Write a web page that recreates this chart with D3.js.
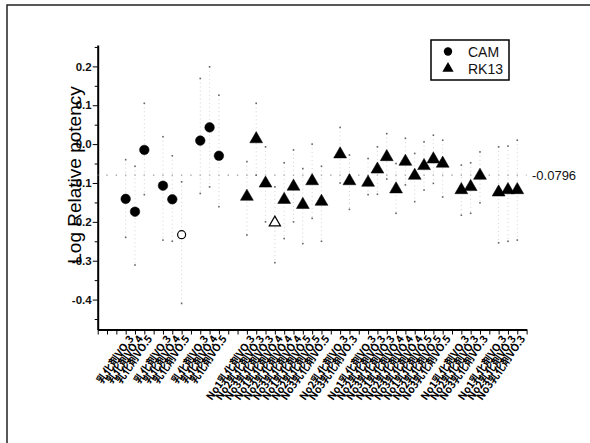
<!DOCTYPE html>
<html>
<head>
<meta charset="utf-8">
<script src="https://cdn.jsdelivr.net/npm/d3@7"></script>
<style>
  body { margin: 0; background: #fff; }
  svg { display: block; }
</style>
</head>
<body>
<script>
// category slots along the x axis ("" = empty slot)
var tickLabels = [
  "", "", "",
  "乳化剤VO.3", "乳化剤VO.4", "乳化剤VO.5", "",
  "乳化剤VO.3", "乳化剤VO.4", "乳化剤VO.5", "",
  "乳化剤VO.3", "乳化剤VO.4", "乳化剤VO.5", "", "",
  "No1乳化剤VO.3", "No2乳化剤VO.3", "No3乳化剤VO.3", "No1乳化剤VO.4", "No2乳化剤VO.4",
  "No3乳化剤VO.4", "No1乳化剤VO.5", "No2乳化剤VO.5", "No3乳化剤VO.5", "",
  "No2乳化剤VO.3", "No3乳化剤VO.3", "",
  "No1乳化剤VO.3", "No2乳化剤VO.3", "No3乳化剤VO.3", "No1乳化剤VO.4", "No2乳化剤VO.4",
  "No3乳化剤VO.4", "No1乳化剤VO.5", "No2乳化剤VO.5", "No3乳化剤VO.5", "",
  "No1乳化剤VO.3", "No2乳化剤VO.3", "No3乳化剤VO.3", "",
  "No1乳化剤VO.3", "No2乳化剤VO.3", "No3乳化剤VO.3", ""
];

var camIdx  = [3, 4, 5, 7, 8, 9, 11, 12, 13];
var camMean = [-0.141, -0.174, -0.015, -0.107, -0.142, -0.233, 0.009, 0.043, -0.030];
var camHi   = [-0.040, -0.057, 0.105, 0.019, -0.030, -0.097, 0.169, 0.199, 0.126];
var camLo   = [-0.240, -0.311, -0.130, -0.247, -0.250, -0.410, -0.127, -0.110, -0.161];
var camOpen = [9];

var rkIdx  = [16, 17, 18, 19, 20, 21, 22, 23, 24, 26, 27,
              29, 30, 31, 32, 33, 34, 35, 36, 37, 39, 40, 41, 43, 44, 45];
var rkMean = [-0.135, 0.013, -0.101, -0.202, -0.143, -0.109, -0.156, -0.095, -0.148, -0.026, -0.095,
              -0.099, -0.065, -0.033, -0.116, -0.045, -0.081, -0.056, -0.039, -0.050,
              -0.118, -0.110, -0.081, -0.124, -0.118, -0.118];
var rkHi   = [-0.045, 0.105, -0.007, -0.110, -0.048, -0.015, -0.063, 0.000, -0.057, 0.043, -0.028,
              -0.037, -0.007, 0.027, -0.050, 0.015, -0.024, 0.006, 0.023, 0.010,
              -0.054, -0.048, -0.020, -0.007, -0.005, 0.010];
var rkLo   = [-0.234, -0.080, -0.200, -0.305, -0.243, -0.200, -0.256, -0.191, -0.250, -0.100, -0.168,
              -0.130, -0.129, -0.090, -0.178, -0.105, -0.148, -0.118, -0.101, -0.136,
              -0.183, -0.178, -0.151, -0.254, -0.250, -0.247];
var rkOpen = [19];

var grandMean = -0.0796;
var yTicks = [0.2, 0.1, 0.0, -0.1, -0.2, -0.3, -0.4];
var yMinor = [0.25, 0.15, 0.05, -0.05, -0.15, -0.25, -0.35, -0.45];

var width = 590, height = 443;

var svg = d3.select("body").append("svg")
    .attr("width", width)
    .attr("height", height);

// outer frame (only left and top edges are visible)
svg.append("path")
    .attr("d", "M7," + height + "V5H" + width)
    .attr("fill", "none")
    .attr("stroke", "#222")
    .attr("stroke-width", 1.5);

var x = d3.scalePoint()
    .domain(d3.range(tickLabels.length))
    .range([97.7, 526.6]);

var y = d3.scaleLinear()
    .domain([-0.477, 0.255])
    .range([329.5, 45]);

var fmt = function (d) { return d.toFixed(1); };

// y axis
var yAxis = svg.append("g")
    .attr("transform", "translate(" + x(0) + ",0)")
    .call(d3.axisLeft(y).tickValues(yTicks).tickFormat(fmt).tickSize(5).tickSizeOuter(0));

yAxis.select(".domain").attr("stroke-width", 2);
yAxis.selectAll("text")
    .attr("x", -6)
    .attr("font-family", "Liberation Sans, Arial, sans-serif")
    .attr("font-weight", "bold")
    .attr("font-size", 11.5)
    .attr("fill", "#111");

svg.append("g")
    .attr("transform", "translate(" + x(0) + ",0)")
    .call(d3.axisLeft(y).tickValues(yMinor).tickFormat("").tickSize(3).tickSizeOuter(0))
    .select(".domain").remove();

// x axis
var xAxis = svg.append("g")
    .attr("transform", "translate(0," + y.range()[0] + ")")
    .call(d3.axisBottom(x).tickSize(5).tickSizeOuter(0).tickFormat(function (i) { return tickLabels[i]; }));

xAxis.select(".domain").attr("stroke-width", 2);
xAxis.selectAll("text")
    .attr("x", 0)
    .attr("y", 0)
    .attr("dy", "0.35em")
    .attr("text-anchor", "end")
    .attr("transform", "translate(5,7) rotate(-55)")
    .attr("font-family", "Noto Sans CJK JP, sans-serif")
    .attr("font-weight", "bold")
    .attr("font-size", 10.5)
    .attr("fill", "#000");

// y title
svg.append("text")
    .attr("transform", "translate(81,175) rotate(-90)")
    .attr("text-anchor", "middle")
    .attr("font-family", "Liberation Sans, Arial, sans-serif")
    .attr("font-size", 19)
    .attr("fill", "#000")
    .text("Log Relative potency");

// grand mean reference line + label
svg.append("line")
    .attr("x1", x(0))
    .attr("x2", x(tickLabels.length - 1))
    .attr("y1", y(grandMean))
    .attr("y2", y(grandMean))
    .attr("stroke", "#999")
    .attr("stroke-width", 1.2)
    .attr("stroke-dasharray", "1.4," + (x.step() - 1.4))
    .attr("stroke-dashoffset", 0.7);

svg.append("text")
    .attr("x", 532)
    .attr("y", y(grandMean))
    .attr("dy", "0.35em")
    .attr("font-family", "Liberation Sans, Arial, sans-serif")
    .attr("font-size", 13)
    .attr("fill", "#111")
    .text("-0.0796");

// build rows for both series
var camRows = camIdx.map(function (c, i) {
  return { cat: c, mean: camMean[i], hi: camHi[i], lo: camLo[i], open: camOpen.indexOf(c) >= 0, series: "CAM" };
});
var rkRows = rkIdx.map(function (c, i) {
  return { cat: c, mean: rkMean[i], hi: rkHi[i], lo: rkLo[i], open: rkOpen.indexOf(c) >= 0, series: "RK13" };
});
var rows = camRows.concat(rkRows);

// interval lines (faint dotted)
var bars = svg.append("g");
bars.selectAll("line")
    .data(rows)
    .enter().append("line")
    .attr("x1", function (d) { return x(d.cat); })
    .attr("x2", function (d) { return x(d.cat); })
    .attr("y1", function (d) { return y(d.hi); })
    .attr("y2", function (d) { return y(d.lo); })
    .attr("stroke", "#d2d2d2")
    .attr("stroke-width", 1)
    .attr("stroke-dasharray", "1,3");

bars.selectAll("rect.hi")
    .data(rows)
    .enter().append("rect")
    .attr("class", "hi")
    .attr("x", function (d) { return x(d.cat) - 0.8; })
    .attr("y", function (d) { return y(d.hi) - 0.8; })
    .attr("width", 1.6)
    .attr("height", 1.6)
    .attr("fill", "#666");

bars.selectAll("rect.lo")
    .data(rows)
    .enter().append("rect")
    .attr("class", "lo")
    .attr("x", function (d) { return x(d.cat) - 0.8; })
    .attr("y", function (d) { return y(d.lo) - 0.8; })
    .attr("width", 1.6)
    .attr("height", 1.6)
    .attr("fill", "#666");

// markers
var circle = d3.symbol().type(d3.symbolCircle);
var triangle = d3.symbol().type(d3.symbolTriangle);

svg.append("g").selectAll("path")
    .data(rows)
    .enter().append("path")
    .attr("transform", function (d) { return "translate(" + x(d.cat) + "," + y(d.mean) + ")"; })
    .attr("d", function (d) {
      if (d.series === "CAM") return circle.size(d.open ? 50 : 72)();
      return triangle.size(d.open ? 55 : 72)();
    })
    .attr("fill", function (d) { return d.open ? "#fff" : "#000"; })
    .attr("stroke", "#000")
    .attr("stroke-width", function (d) { return d.open ? 1.2 : 0.5; });

// legend
var legend = svg.append("g");
legend.append("rect")
    .attr("x", 431).attr("y", 40)
    .attr("width", 78).attr("height", 40)
    .attr("fill", "#fff")
    .attr("stroke", "#000")
    .attr("stroke-width", 1.5);

var legendItems = ["CAM", "RK13"];
legendItems.forEach(function (name, i) {
  var cy = 51.5 + i * 17;
  legend.append("path")
      .attr("transform", "translate(448," + cy + ")")
      .attr("d", (name === "CAM" ? circle.size(55) : triangle.size(55))())
      .attr("fill", "#000");
  legend.append("text")
      .attr("x", 468)
      .attr("y", cy)
      .attr("dy", "0.36em")
      .attr("font-family", "Liberation Sans, Arial, sans-serif")
      .attr("font-size", 14)
      .attr("fill", "#111")
      .text(name);
});
</script>
</body>
</html>
